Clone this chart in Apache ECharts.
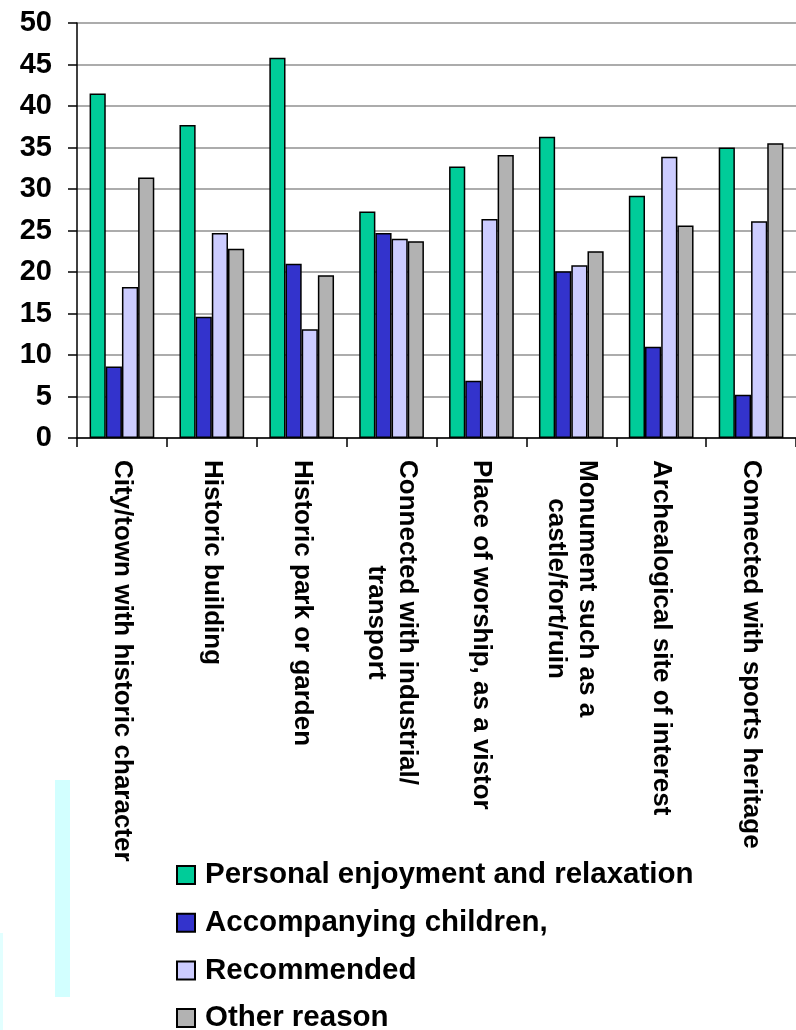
<!DOCTYPE html>
<html>
<head>
<meta charset="utf-8">
<script src="https://cdn.jsdelivr.net/npm/echarts@6/dist/echarts.min.js"></script>
<style>
  html, body { margin: 0; padding: 0; background: #ffffff; }
  #chart { width: 796px; height: 1030px; }
</style>
</head>
<body>
<div id="chart"></div>
<script>
// Heritage site categories (x axis)
const categories = [
  'City/town with historic character',
  'Historic building',
  'Historic park or garden',
  'Connected with industrial/\ntransport',
  'Place of worship, as a vistor',
  'Monument such as a\ncastle/fort/ruin',
  'Archealogical site of interest',
  'Connected with sports heritage'
];

// Reasons for visiting, one value per category (%)
const personalEnjoyment = [41.5, 37.7, 45.8, 27.3, 32.7, 36.3, 29.2, 35.0];
const accompanyingChildren = [8.6, 14.6, 21.0, 24.7, 6.9, 20.1, 11.0, 5.2];
const recommended = [18.2, 24.7, 13.1, 24.0, 26.4, 20.8, 33.9, 26.1];
const otherReason = [31.4, 22.8, 19.6, 23.7, 34.1, 22.5, 25.6, 35.5];

const seriesNames = [
  'Personal enjoyment and relaxation',
  'Accompanying children,',
  'Recommended',
  'Other reason'
];
const seriesColors = ['#00cc99', '#3333cc', '#ccccff', '#b2b2b2'];
const seriesValues = [personalEnjoyment, accompanyingChildren, recommended, otherReason];

const FONT = "'Liberation Sans', Arial, Helvetica, sans-serif";

const chart = echarts.init(document.getElementById('chart'), null, { renderer: 'canvas' });

chart.setOption({
  animation: false,
  backgroundColor: '#ffffff',
  textStyle: { fontFamily: FONT, color: '#000' },
  grid: { left: 77, top: 23, width: 733, height: 415, containLabel: false },
  xAxis: {
    type: 'category',
    data: categories,
    boundaryGap: true,
    axisLine: { show: true, lineStyle: { color: '#000', width: 1.5 } },
    axisTick: { show: true, length: 9, lineStyle: { color: '#000', width: 1.5 } },
    axisLabel: {
      interval: 0,
      rotate: -90,
      margin: 22,
      color: '#000',
      fontFamily: FONT,
      fontWeight: 'bold',
      fontSize: 26,
      lineHeight: 31,
      // each line of a wrapped label is centred within the label block
      formatter: function (v) {
        return v.split('\n').map(function (l) { return '{c|' + l + '}'; }).join('\n');
      },
      rich: {
        c: { align: 'center', fontFamily: FONT, fontWeight: 'bold', fontSize: 26, lineHeight: 31, color: '#000' }
      }
    }
  },
  yAxis: {
    type: 'value',
    min: 0,
    max: 50,
    interval: 5,
    axisLine: { show: true, lineStyle: { color: '#000', width: 1.5 } },
    axisTick: { show: true, length: 9, lineStyle: { color: '#000', width: 1.5 } },
    axisLabel: {
      margin: 25,
      color: '#000',
      fontFamily: FONT,
      fontWeight: 'bold',
      fontSize: 29
    },
    splitLine: { show: true, lineStyle: { color: '#909090', width: 1.5 } }
  },
  legend: {
    orient: 'vertical',
    left: 176,
    top: 860,
    height: 400,
    padding: 0,
    itemWidth: 18,
    itemHeight: 18,
    itemGap: 17.7,
    icon: 'rect',
    data: seriesNames,
    textStyle: { fontFamily: FONT, fontWeight: 'bold', fontSize: 29.5, color: '#000', lineHeight: 30, padding: [0, 0, 0, 5] }
  },
  graphic: [
    { type: 'rect', silent: true, z: -1, shape: { x: 55, y: 780, width: 15, height: 217 }, style: { fill: '#d2ffff' } },
    { type: 'rect', silent: true, z: -1, shape: { x: 0, y: 933, width: 3, height: 97 }, style: { fill: '#e2ffff' } }
  ],
  series: seriesNames.map(function (name, i) {
    return {
      name: name,
      type: 'bar',
      data: seriesValues[i],
      barGap: '0%',
      barCategoryGap: '28%',
      itemStyle: { color: seriesColors[i], borderColor: '#000', borderWidth: 1.5 }
    };
  })
});
</script>
</body>
</html>
